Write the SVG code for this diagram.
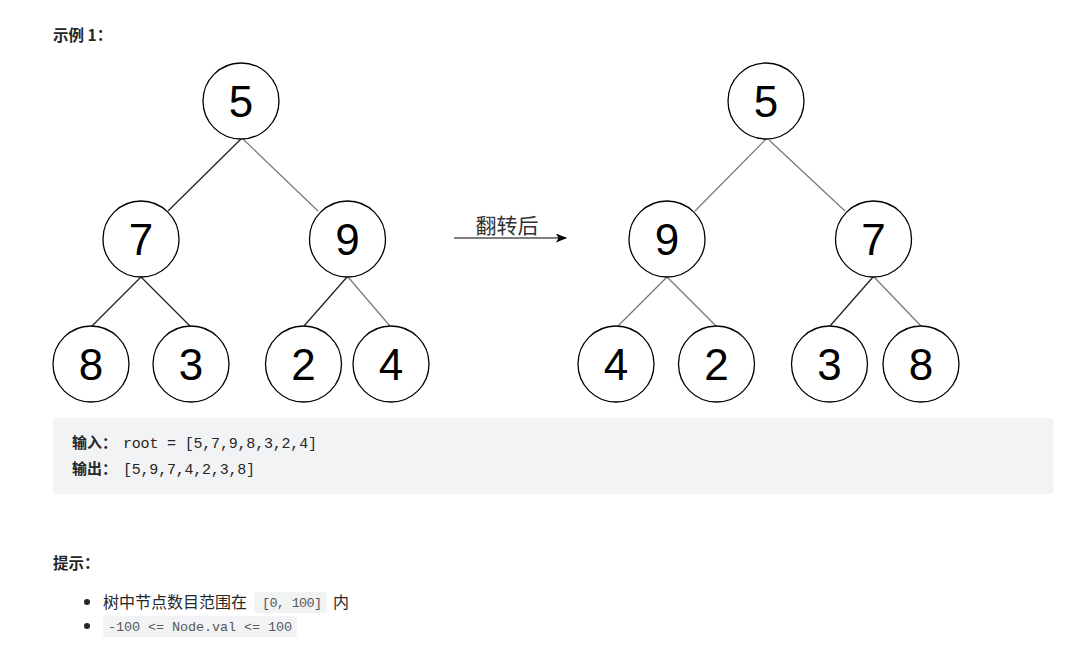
<svg xmlns="http://www.w3.org/2000/svg" width="1068" height="650" viewBox="0 0 1068 650">
<defs>
<style>
.node circle{fill:#fff;stroke:#000;stroke-width:1.3}
.node text{font-family:"Liberation Sans",Arial,sans-serif;font-size:44px;text-anchor:middle;fill:#000}
.dk{stroke:#222;stroke-width:1.3}
.gr{stroke:#777;stroke-width:1.2}
.cjk{font-family:"Noto Sans CJK SC","Liberation Sans",sans-serif}
.mono{font-family:"Liberation Mono","DejaVu Sans Mono",monospace}
.b{font-weight:bold}
</style>
<marker id="arr" markerWidth="11" markerHeight="9" refX="10" refY="4.5" orient="auto" markerUnits="userSpaceOnUse">
<path d="M0,0 L11,4.5 L0,9 L2.5,4.5 Z" fill="#000"/>
</marker>
</defs>
<rect width="1068" height="650" fill="#fff"/>
<text x="53" y="41" class="cjk b" font-size="15.5" fill="#262626">示例 1：</text>

<g id="connectors">
<line class="dk" x1="241" y1="139" x2="168" y2="211"/>
<line class="gr" x1="243" y1="139" x2="318" y2="211"/>
<line class="dk" x1="141" y1="277" x2="92" y2="326"/>
<line class="dk" x1="141" y1="277" x2="190" y2="326"/>
<line class="dk" x1="347" y1="277" x2="304" y2="326"/>
<line class="gr" x1="348" y1="277" x2="390" y2="326"/>
<line class="gr" x1="766" y1="139" x2="695" y2="211"/>
<line class="gr" x1="769" y1="140" x2="845" y2="211"/>
<line class="gr" x1="667" y1="277" x2="618" y2="326"/>
<line class="gr" x1="667" y1="277" x2="716" y2="326"/>
<line class="dk" x1="873" y1="277" x2="830" y2="326"/>
<line class="gr" x1="874" y1="277" x2="921" y2="326"/>
<line x1="454" y1="238" x2="566" y2="238" stroke="#000" stroke-width="1.2" marker-end="url(#arr)"/>
</g>
<text x="507" y="233" class="cjk" font-size="21" text-anchor="middle" fill="#333">翻转后</text>

<g id="L5" class="node"><circle cx="241" cy="101" r="38"/><text x="241" y="117">5</text></g>
<g id="L7" class="node"><circle cx="141" cy="239" r="38"/><text x="141" y="255">7</text></g>
<g id="L9" class="node"><circle cx="347.5" cy="239" r="38"/><text x="347.5" y="255">9</text></g>
<g id="L8" class="node"><circle cx="91" cy="364" r="38"/><text x="91" y="380">8</text></g>
<g id="L3" class="node"><circle cx="191" cy="364" r="38"/><text x="191" y="380">3</text></g>
<g id="L2" class="node"><circle cx="303.5" cy="364" r="38"/><text x="303.5" y="380">2</text></g>
<g id="L4" class="node"><circle cx="391" cy="364" r="38"/><text x="391" y="380">4</text></g>

<g id="R5" class="node"><circle cx="766" cy="101" r="38"/><text x="766" y="117">5</text></g>
<g id="R9" class="node"><circle cx="667" cy="239" r="38"/><text x="667" y="255">9</text></g>
<g id="R7" class="node"><circle cx="873.5" cy="239" r="38"/><text x="873.5" y="255">7</text></g>
<g id="R4" class="node"><circle cx="616" cy="364" r="38"/><text x="616" y="380">4</text></g>
<g id="R2" class="node"><circle cx="716.5" cy="364" r="38"/><text x="716.5" y="380">2</text></g>
<g id="R3" class="node"><circle cx="829.5" cy="364" r="38"/><text x="829.5" y="380">3</text></g>
<g id="R8" class="node"><circle cx="921" cy="364" r="38"/><text x="921" y="380">8</text></g>

<rect x="53" y="418" width="1000" height="76" rx="4" fill="#f2f3f5"/>
<text x="72" y="448" font-size="15" fill="#262626"><tspan class="cjk b">输入：</tspan><tspan class="mono" x="123" textLength="194">root = [5,7,9,8,3,2,4]</tspan></text>
<text x="72" y="474" font-size="15" fill="#262626"><tspan class="cjk b">输出：</tspan><tspan class="mono" x="123" textLength="132">[5,9,7,4,2,3,8]</tspan></text>

<text x="53" y="569" class="cjk b" font-size="15.5" fill="#262626">提示：</text>
<circle cx="87" cy="602" r="3" fill="#262626"/>
<circle cx="87" cy="626" r="3" fill="#262626"/>
<text x="103" y="608" class="cjk" font-size="16" fill="#262626">树中节点数目范围在</text>
<rect x="254" y="592" width="73" height="21" rx="4" fill="#f2f3f5"/>
<text x="262" y="607" class="mono" font-size="13.5" fill="#595959" textLength="60">[0, 100]</text>
<text x="333" y="608" class="cjk" font-size="16" fill="#262626">内</text>
<rect x="103" y="616" width="194" height="21" rx="4" fill="#f2f3f5"/>
<text x="108" y="631" class="mono" font-size="13.5" fill="#595959" textLength="184">-100 &lt;= Node.val &lt;= 100</text>
</svg>
